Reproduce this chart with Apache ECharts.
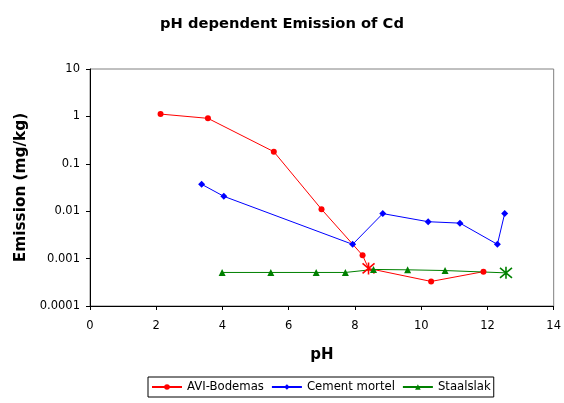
<!DOCTYPE html>
<html>
<head>
<meta charset="utf-8">
<script src="https://cdn.jsdelivr.net/npm/echarts@6/dist/echarts.min.js"></script>
<style>
  html, body { margin: 0; padding: 0; background: #fff; }
  #chart { width: 564px; height: 403px; }
</style>
</head>
<body>
<div id="chart"></div>
<script>
// pH vs. Cd emission (mg/kg) for three materials
const aviPH    = [2.13, 3.56, 5.55, 6.99, 8.23, 8.41, 10.30, 11.88];
const aviEmis  = [1.12, 0.91, 0.18, 0.011, 0.00117, 0.00062, 0.00033, 0.00053];
const aviStar  = 5;   // index of the point drawn with a star marker

const cemPH    = [3.37, 4.04, 7.93, 8.84, 10.21, 11.17, 12.30, 12.52];
const cemEmis  = [0.037, 0.0206, 0.0020, 0.0089, 0.0060, 0.0056, 0.0020, 0.0089];

const staPH    = [3.99, 5.46, 6.83, 7.71, 8.56, 9.59, 10.72, 12.56];
const staEmis  = [0.00051, 0.00051, 0.00051, 0.00051, 0.00059, 0.00058, 0.00056, 0.00050];
const staStar  = 7;

const xTicks = [0, 2, 4, 6, 8, 10, 12, 14];
const yTickLabels = ['0.0001', '0.001', '0.01', '0.1', '1', '10'];

const FONT = 'DejaVu Sans';
const STAR = 'path://M0,0L10,10M10,0L0,10M5,-1L5,11';

function pairs(xs, ys, starIdx, color) {
  return xs.map((x, i) => {
    const d = { value: [x, ys[i]] };
    if (i === starIdx) {
      d.symbol = STAR;
      d.symbolSize = 12;
      d.itemStyle = { color: 'rgba(0,0,0,0)', borderColor: color, borderWidth: 1.6 };
    }
    return d;
  });
}

function series(name, data, color, symbol, size) {
  return {
    name, type: 'line', data,
    symbol, symbolSize: size,
    showSymbol: true,
    lineStyle: { color, width: 1 },
    itemStyle: { color, borderWidth: 0 },
    emphasis: { disabled: true },
    animation: false
  };
}

const chart = echarts.init(document.getElementById('chart'), null, { renderer: 'canvas' });
chart.setOption({
  backgroundColor: '#ffffff',
  title: {
    text: 'pH dependent Emission of Cd',
    left: 'center', top: 12,
    textStyle: { fontFamily: FONT, fontWeight: 'bold', fontSize: 14.7, color: '#000' }
  },
  grid: {
    left: 90, right: 10, top: 69, bottom: 97,
    show: true, borderColor: '#808080', borderWidth: 1, backgroundColor: '#fff'
  },
  legend: {
    bottom: 6, left: 148,
    itemWidth: 30, itemHeight: 7, itemGap: 7,
    padding: [4, 3, 4, 3],
    borderColor: '#000', borderWidth: 1,
    textStyle: { fontFamily: FONT, fontSize: 11.7, color: '#000' },
    data: ['AVI-Bodemas', 'Cement mortel', 'Staalslak']
  },
  xAxis: {
    type: 'value', min: 0, max: 14, interval: 2,
    name: 'pH', nameLocation: 'middle', nameGap: 42,
    nameTextStyle: { fontFamily: FONT, fontWeight: 'bold', fontSize: 15, color: '#000' },
    axisLine: { show: true, onZero: false, lineStyle: { color: '#000', width: 1 } },
    axisTick: { show: true, length: 4, lineStyle: { color: '#000' } },
    axisLabel: { fontFamily: FONT, fontSize: 11.5, color: '#000', margin: 14 },
    splitLine: { show: false }
  },
  yAxis: {
    type: 'log', logBase: 10, min: 0.0001, max: 10,
    name: 'Emission (mg/kg)', nameLocation: 'middle', nameGap: 58, nameRotate: 90,
    nameTextStyle: { fontFamily: FONT, fontWeight: 'bold', fontSize: 15.3, color: '#000' },
    axisLine: { show: true, lineStyle: { color: '#000', width: 1 } },
    axisTick: { show: true, length: 4, lineStyle: { color: '#000' } },
    axisLabel: {
      fontFamily: FONT, fontSize: 11.5, color: '#000', margin: 10,
      formatter: v => yTickLabels[Math.round(Math.log10(v)) + 4]
    },
    splitLine: { show: false }
  },
  series: [
    series('AVI-Bodemas', pairs(aviPH, aviEmis, aviStar, '#ff0000'), '#ff0000', 'circle', 6),
    series('Cement mortel', pairs(cemPH, cemEmis, -1, '#0000ff'), '#0000ff', 'diamond', 7),
    series('Staalslak', pairs(staPH, staEmis, staStar, '#008000'), '#008000', 'triangle', 7)
  ]
});
</script>
</body>
</html>
